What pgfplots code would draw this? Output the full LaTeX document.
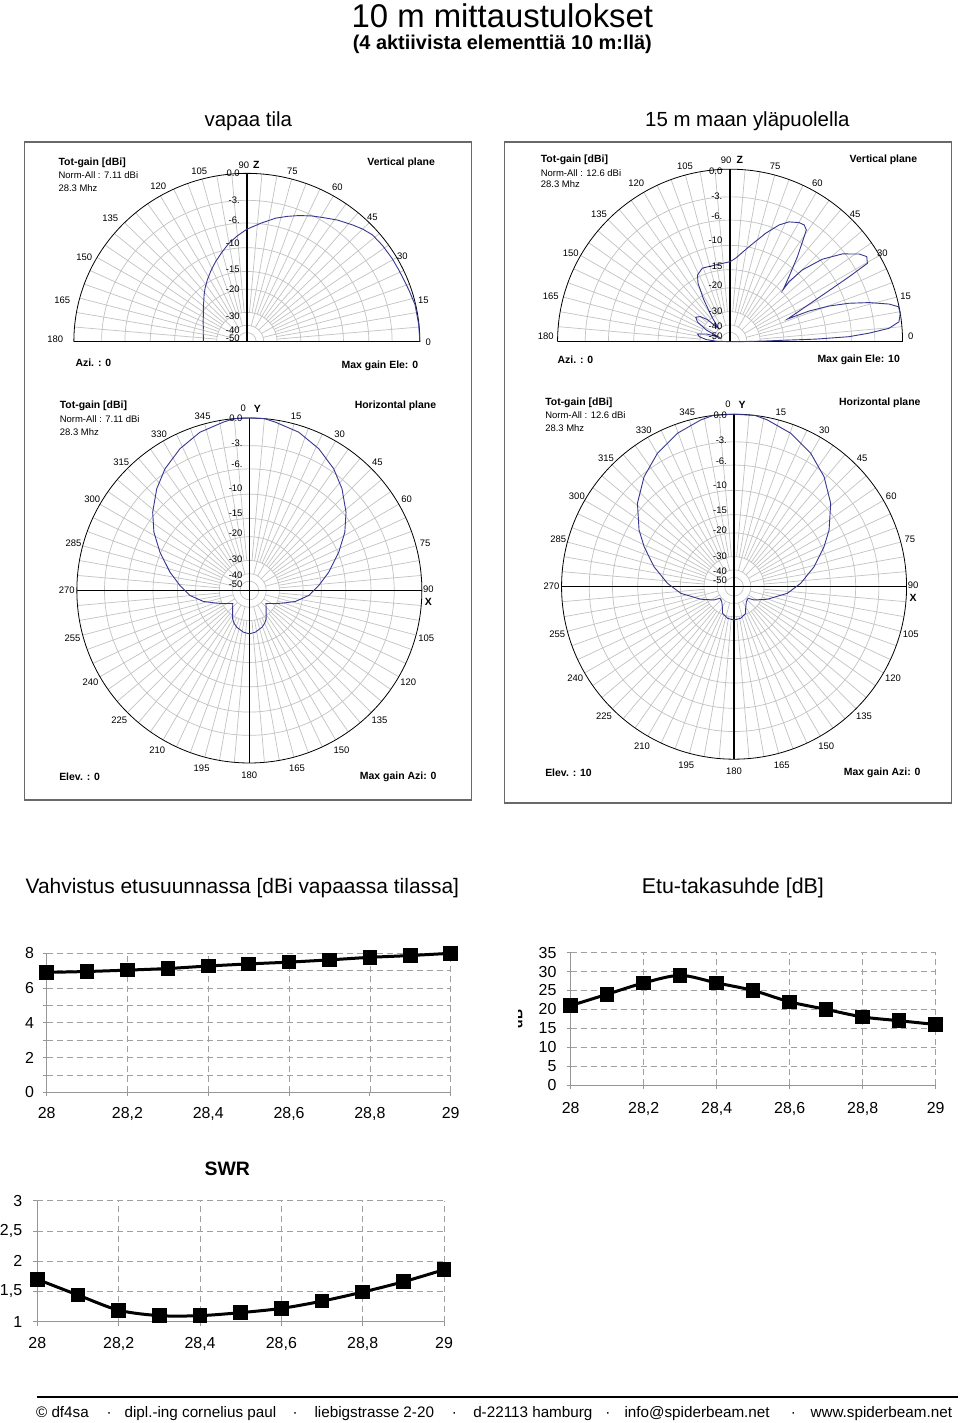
\documentclass[border=0pt]{standalone}
\usepackage{fontspec}
\setmainfont{Liberation Sans}
\usepackage{pgfplots}
\usepackage{pgfplotstable}
\pgfplotsset{compat=1.18}

\definecolor{curvec}{RGB}{55,55,145}
\definecolor{pgrid}{RGB}{195,195,195}
\definecolor{framec}{RGB}{105,105,105}
\definecolor{cgrid}{RGB}{160,160,160}
\definecolor{caxis}{RGB}{150,150,150}

\tikzset{
 gridl/.style={draw=pgrid, line width=0.7bp},
 lab/.style={font=\fontsize{9.5}{10}\selectfont, inner sep=0pt},
 labb/.style={font=\bfseries\fontsize{10.5}{11}\selectfont, inner sep=0pt},
 dbl/.style={font=\fontsize{9.5}{10}\selectfont, inner sep=0pt, anchor=east},
}

\newcommand{\dBrings}{0.83963,0.70497,0.55844,0.41729,0.31185,0.17415,0.09725,0.05431}

% vertical-plane grid: cx, cy, R, yscale
\newcommand{\vgrid}[4]{%
\begin{scope}[shift={(#1,#2)}, yscale=#4]
 \foreach \f in \dBrings {\draw[gridl] ({#3*\f},0) arc[start angle=0,end angle=180,radius={#3*\f}];}
 \foreach \a in {5,10,...,175} {\draw[gridl] (\a:{#3*0.17415}) -- (\a:#3);}
 \foreach \a in {15,30,...,165} {\draw[gridl] (\a:{#3*0.09725}) -- (\a:{#3*0.17415});}
 \draw[black, line width=0.8bp] (#3,0) arc[start angle=0,end angle=180,radius=#3];
 \draw[black, line width=1.3bp] (-#3,0) -- (#3,0);
 \draw[black, line width=1.3bp] (0,0) -- (0,#3);
\end{scope}}

% horizontal-plane grid: cx, cy, R
\newcommand{\hgrid}[3]{%
\begin{scope}[shift={(#1,#2)}]
 \foreach \f in \dBrings {\draw[gridl] (0,0) circle[radius={#3*\f}];}
 \foreach \a in {0,5,...,355} {\draw[gridl] (\a:{#3*0.17415}) -- (\a:#3);}
 \foreach \a in {0,15,...,345} {\draw[gridl] (\a:{#3*0.09725}) -- (\a:{#3*0.17415});}
 \draw[black, line width=0.8bp] (0,0) circle[radius=#3];
 \draw[black, line width=1.3bp] (-#3,0) -- (#3,0);
 \draw[black, line width=1.3bp] (0,-#3) -- (0,#3);
 \foreach \a in {15,30,45,60,75,105,120,135,150,165,180,195,210,225,240,255,270,285,300,315,330,345}{%
   \pgfmathsetmacro\rl{#3+10-2*cos(\a)}
   \node[lab] at ({90-\a}:\rl) {\a};}
 \node[lab] at (-6,182) {0};
 \node[labb] at (8,182) {Y};
 \node[lab] at (179,1) {90};
 \node[labb] at (179,-11) {X};
\end{scope}}

% ---------------- data: radiation patterns (angle, dB) ----------------
\pgfplotstableread{
el db
0 0
6 -0.03
12.7 -0.06
18 -0.25
22.8 -0.38
26 -0.42
30.5 -0.45
36 -0.52
41.2 -0.63
45 -0.95
48.7 -1.36
54 -1.95
59.4 -2.64
63.5 -3.1
68.1 -3.67
72.5 -4.25
77.2 -4.88
83 -5.85
90 -6.92
95 -7.9
100 -8.93
105 -10.2
110.8 -11.6
116 -12.9
121.9 -14.39
127 -15.7
131.7 -16.99
136 -18.2
140 -19.1
145 -20.3
150 -21.2
155 -21.9
160 -22.6
170 -23.4
180 -23.7
}\tabPa

\pgfplotstableread{
el db
0 -99
0.3 -45
1.1 -27
1.5 -20.5
1.7 -12
2.4 -6.4
3.5 -3.7
4.8 -1.35
6.7 -0.25
9.4 0
11.7 -0.05
13.3 -0.93
15.7 -3.05
17.9 -5.53
19.8 -8.49
21.2 -12.2
21.5 -17.6
27.3 -7.5
28.6 -4.13
29.7 -1.5
31.9 -1.19
34.2 -1.73
38 -3.28
41.8 -5.71
44.8 -9.05
45.5 -12.3
44.5 -14.4
47.8 -11.6
51.6 -7.97
54.8 -5.05
55.7 -4.17
57.6 -3.8
59.9 -3.88
63.8 -4.4
67.2 -5.31
71.8 -7.09
78.7 -9.9
86.2 -12.43
90 -13.2
100.6 -13.6
110.7 -13.5
116.1 -14.5
118.7 -16.3
122 -21.2
126 -28.9
131 -38.8
136 -28.9
140 -25.5
144.6 -24.2
149 -26
154 -32.5
158 -45.7
162 -33.2
166.7 -28.1
171 -29.5
175 -33.9
178 -43.1
180 -99
}\tabPb

\pgfplotstableread{
az db
0 0
5 0
8.8 -0.22
17.3 -0.68
26.1 -1.53
34.7 -2.62
42.3 -3.88
51 -5.61
58.6 -7.44
66.8 -9.83
77 -12.87
85.9 -15.58
94.8 -18.24
103.4 -22.2
111.2 -27.3
116 -30.2
122 -33.5
128.5 -36
135 -34.1
140 -32.5
145 -30.5
149.5 -28.4
155 -26.8
160.9 -25.6
171.8 -24.2
180 -23.7
188.2 -24.2
199.1 -25.6
205 -26.8
210.5 -28.4
215 -30.5
220 -32.5
225 -34.1
231.5 -36
238 -33.5
244 -30.2
248.8 -27.3
256.6 -22.2
265.2 -18.24
274.1 -15.58
283 -12.87
293.2 -9.83
301.4 -7.44
309 -5.61
317.7 -3.88
325.3 -2.62
333.9 -1.53
342.7 -0.68
351.2 -0.22
355 0
360 0
}\tabPc

\pgfplotstableread{
az db
0 0
7 0
11.3 -0.25
20.3 -0.92
29.9 -1.97
39.3 -3.33
49.2 -5.17
59.2 -7.63
66 -9.62
76 -12.66
87.1 -16.31
97.1 -20.03
110.7 -27.1
123.6 -33.85
129.6 -38.6
140.6 -37.5
151.8 -33.5
156.4 -30.6
168.2 -28.75
180 -28.2
191.8 -28.75
203.6 -30.6
208.2 -33.5
219.4 -37.5
230.4 -38.6
236.4 -33.85
249.3 -27.1
262.9 -20.03
272.9 -16.31
284 -12.66
294 -9.62
300.8 -7.63
310.8 -5.17
320.7 -3.33
330.1 -1.97
339.7 -0.92
348.7 -0.25
353 0
360 0
}\tabPd

\pgfplotsset{
 polarcurve/.style={draw=curvec, line width=0.9bp, mark=none},
 hidepolar/.style={anchor=south west, scale only axis, hide axis, clip=false, xmin=-1, xmax=1, ymax=1},
 linechart/.style={
   scale only axis, anchor=south west, xmin=28, xmax=29,
   axis x line*=bottom, axis y line*=left,
   axis line style={draw=caxis, line width=0.8bp},
   tick style={draw=caxis, line width=0.8bp},
   tick align=outside, major tick length=4bp, minor tick length=4bp,
   xtick={28,28.2,28.4,28.6,28.8,29},
   xticklabels={28,{28,2},{28,4},{28,6},{28,8},29},
   grid=both,
   major grid style={draw=cgrid, dash pattern=on 6bp off 4bp, line width=0.7bp},
   minor grid style={draw=cgrid, dash pattern=on 6bp off 4bp, line width=0.7bp},
   tick label style={font=\fontsize{16}{16}\selectfont, inner sep=0pt},
   xticklabel style={anchor=north},
   yticklabel style={anchor=east},
   clip=false},
 lineplot/.style={black, line width=3bp, mark=square*, mark size=5.8bp, mark options={solid, fill=black}},
}

\begin{document}
\begin{tikzpicture}[x=1bp,y=1bp]
\fill[white] (0,0) rectangle (960,1423);

% ---- polar grids (picture coordinates, y up) ----
\vgrid{244.5}{1081.3}{173}{0.973}
\vgrid{727.7}{1081.3}{172.5}{1}
\hgrid{247}{832.5}{172.5}
\hgrid{731.7}{836.3}{172.5}

% ---- polar curves ----
\begin{axis}[hidepolar, at={(71.5bp,1081.3bp)}, width=346bp, height=168.3bp, ymin=0]
\addplot[polarcurve] table[x expr={exp(0.058266*\thisrow{db})*cos(\thisrow{el})}, y expr={exp(0.058266*\thisrow{db})*sin(\thisrow{el})}] {\tabPa};
\end{axis}
\begin{axis}[hidepolar, at={(555.2bp,1081.3bp)}, width=345bp, height=172.5bp, ymin=0]
\addplot[polarcurve] table[x expr={exp(0.058266*\thisrow{db})*cos(\thisrow{el})}, y expr={exp(0.058266*\thisrow{db})*sin(\thisrow{el})}] {\tabPb};
\end{axis}
\begin{axis}[hidepolar, at={(74.5bp,660bp)}, width=345bp, height=345bp, ymin=-1]
\addplot[polarcurve] table[x expr={exp(0.058266*\thisrow{db})*sin(\thisrow{az})}, y expr={exp(0.058266*\thisrow{db})*cos(\thisrow{az})}] {\tabPc};
\end{axis}
\begin{axis}[hidepolar, at={(559.2bp,663.8bp)}, width=345bp, height=345bp, ymin=-1]
\addplot[polarcurve] table[x expr={exp(0.058266*\thisrow{db})*sin(\thisrow{az})}, y expr={exp(0.058266*\thisrow{db})*cos(\thisrow{az})}] {\tabPd};
\end{axis}

% ---- texts in pixel coordinates (y down) ----
\begin{scope}[y=-1bp, yshift=1423bp]
\node[font=\fontsize{33}{36}\selectfont, inner sep=0pt] at (500,16) {10 m mittaustulokset};
\node[font=\bfseries\fontsize{20}{22}\selectfont, inner sep=0pt] at (500,44) {(4 aktiivista elementtiä 10 m:llä)};
\node[font=\fontsize{20.5}{22}\selectfont, inner sep=0pt] at (246,121) {vapaa tila};
\node[font=\fontsize{20.5}{22}\selectfont, inner sep=0pt] at (745,121) {15 m maan yläpuolella};

\draw[framec, line width=1.5bp] (22,142) rectangle (469,800);
\draw[framec, line width=1.5bp] (502,142) rectangle (949,803);

% P1 labels
\foreach \t/\xx/\yy in {105/197/171, 75/290/171, 120/156/186, 60/335/187, 135/108/218, 45/370/217, 150/82/257, 30/400/256, 165/60/300, 15/421/300, 180/53/339, 0/426/342}
  {\node[lab] at (\xx,\yy) {\t};}
\node[lab] at (241.5,165) {90}; \node[labb] at (254,164.5) {Z};
\foreach \t/\yy in {0.0/173.2,-3./200.7,-6./220.7,-10/243.7,-15/269.7,-20/289.7,-30/316.7,-40/330.7,-50/338.7}
  {\node[dbl] at (237.5,\yy) {\t};}
\node[labb, anchor=west] at (56,163) {Tot-gain [dBi]};
\node[lab, anchor=west] at (56,175.5) {Norm-All : 7.11 dBi};
\node[lab, anchor=west] at (56,188) {28.3 Mhz};
\node[labb, anchor=east] at (432.7,163) {Vertical plane};
\node[labb, anchor=west] at (73,363) {Azi. : 0};
\node[labb, anchor=east] at (416,366) {Max gain Ele: 0};

% P2 labels
\foreach \t/\xx/\yy in {105/682.7/166.7, 75/772.7/166.7, 120/634/183.3, 60/815/183.3, 135/596.7/214, 45/852.7/214, 150/568.3/253.3, 30/880/253.3, 165/548.3/296.7, 15/903.3/296, 180/543.3/336.7, 0/908.3/336.7}
  {\node[lab] at (\xx,\yy) {\t};}
\node[lab] at (723.7,160.7) {90}; \node[labb] at (737.5,160.2) {Z};
\foreach \t/\yy in {0.0/171.7,-3./196.7,-6./216,-10/240.7,-15/266,-20/285,-30/311.7,-40/326.7,-50/336.7}
  {\node[dbl] at (720.2,\yy) {\t};}
\node[labb, anchor=west] at (538.3,160) {Tot-gain [dBi]};
\node[lab, anchor=west] at (538.3,173.3) {Norm-All : 12.6 dBi};
\node[lab, anchor=west] at (538.3,184.3) {28.3 Mhz};
\node[labb, anchor=east] at (915,160) {Vertical plane};
\node[labb, anchor=west] at (555,359.3) {Azi. : 0};
\node[labb, anchor=east] at (897.7,360) {Max gain Ele: 10};

% P3 labels
\foreach \t/\yy in {0.0/418.5,-3./443.5,-6./464.5,-10/488.5,-15/513.5,-20/533.5,-30/559.5,-40/575.2,-50/584.5}
  {\node[dbl] at (240.3,\yy) {\t};}
\node[labb, anchor=west] at (57.3,405.7) {Tot-gain [dBi]};
\node[lab, anchor=west] at (57.3,419) {Norm-All : 7.11 dBi};
\node[lab, anchor=west] at (57.3,432.3) {28.3 Mhz};
\node[labb, anchor=east] at (434,405.7) {Horizontal plane};
\node[labb, anchor=west] at (56.7,776.7) {Elev. : 0};
\node[labb, anchor=east] at (434.3,776.7) {Max gain Azi: 0};

% P4 labels
\foreach \t/\yy in {0.0/415,-3./440.7,-6./461.7,-10/485,-15/510,-20/530,-30/556.7,-40/571.7,-50/580.7}
  {\node[dbl] at (724.7,\yy) {\t};}
\node[labb, anchor=west] at (542.7,402.7) {Tot-gain [dBi]};
\node[lab, anchor=west] at (542.7,415) {Norm-All : 12.6 dBi};
\node[lab, anchor=west] at (542.7,427.7) {28.3 Mhz};
\node[labb, anchor=east] at (918.3,402.7) {Horizontal plane};
\node[labb, anchor=west] at (542.7,772.7) {Elev. : 10};
\node[labb, anchor=east] at (918.3,772.7) {Max gain Azi: 0};

% chart headings
\node[font=\fontsize{21}{22}\selectfont, inner sep=0pt] at (240,888) {Vahvistus etusuunnassa [dBi vapaassa tilassa]};
\node[font=\fontsize{21.5}{22}\selectfont, inner sep=0pt] at (730.5,888) {Etu-takasuhde [dB]};
\node[font=\bfseries\fontsize{19.5}{21}\selectfont, inner sep=0pt] at (225,1169) {SWR};
\begin{scope}
\clip (516.5,1008) rectangle (523.5,1030);
\node[font=\bfseries\fontsize{14}{14}\selectfont, inner sep=0pt, rotate=90] at (515,1019) {dB};
\end{scope}

% footer
\draw[black, line width=2bp] (35,1397) -- (956,1397);
\begin{scope}[every node/.style={font=\fontsize{15.3}{16}\selectfont, inner sep=0pt, anchor=base west}]
\node at (33.5,1417.5) {© df4sa};
\node at (122,1417.5) {dipl.-ing cornelius paul};
\node at (312,1417.5) {liebigstrasse 2-20};
\node at (470.7,1417.5) {d-22113 hamburg};
\node at (622,1417.5) {info@spiderbeam.net};
\node at (808,1417.5) {www.spiderbeam.net};
\end{scope}
\foreach \xx in {106.7,292.7,452,605.5,791}
  {\node[font=\fontsize{15.3}{16}\selectfont, inner sep=0pt, anchor=base] at (\xx,1417.5) {·};}
\end{scope}

% ---- line charts ----
\begin{axis}[linechart, at={(44.3bp,330.7bp)}, width=404bp, height=139bp,
  ymin=0, ymax=8, ytick={0,2,4,6,8}, yticklabels={0,2,4,6,8}, minor ytick={1,3,5,7},
  xticklabel shift=11bp, yticklabel shift=8.5bp]
\addplot[lineplot] coordinates {(28,6.9) (28.1,6.95) (28.2,7.03) (28.3,7.12) (28.4,7.27) (28.5,7.39) (28.6,7.49) (28.7,7.62) (28.8,7.77) (28.9,7.87) (29,8.0)};
\end{axis}

\begin{axis}[linechart, at={(568.3bp,338bp)}, width=365bp, height=132.3bp,
  ymin=0, ymax=35, ytick={0,5,10,15,20,25,30,35}, yticklabels={0,5,10,15,20,25,30,35},
  xticklabel shift=13bp, yticklabel shift=10bp]
\addplot[lineplot, smooth, tension=0.5] coordinates {(28,21) (28.1,24) (28.2,27) (28.3,29) (28.4,27) (28.5,25) (28.6,22) (28.7,20) (28.8,18) (28.9,17) (29,16)};
\end{axis}

\begin{axis}[linechart, at={(35bp,101.3bp)}, width=406.7bp, height=121bp,
  ymin=1, ymax=3, ytick={1,1.5,2,2.5,3}, yticklabels={1,{1,5},2,{2,5},3},
  xticklabel shift=11.5bp, yticklabel shift=11bp]
\addplot[lineplot, smooth, tension=0.5] coordinates {(28,1.7) (28.1,1.44) (28.2,1.19) (28.3,1.1) (28.4,1.1) (28.5,1.15) (28.6,1.22) (28.7,1.34) (28.8,1.49) (28.9,1.66) (29,1.86)};
\end{axis}
\end{tikzpicture}
\end{document}
